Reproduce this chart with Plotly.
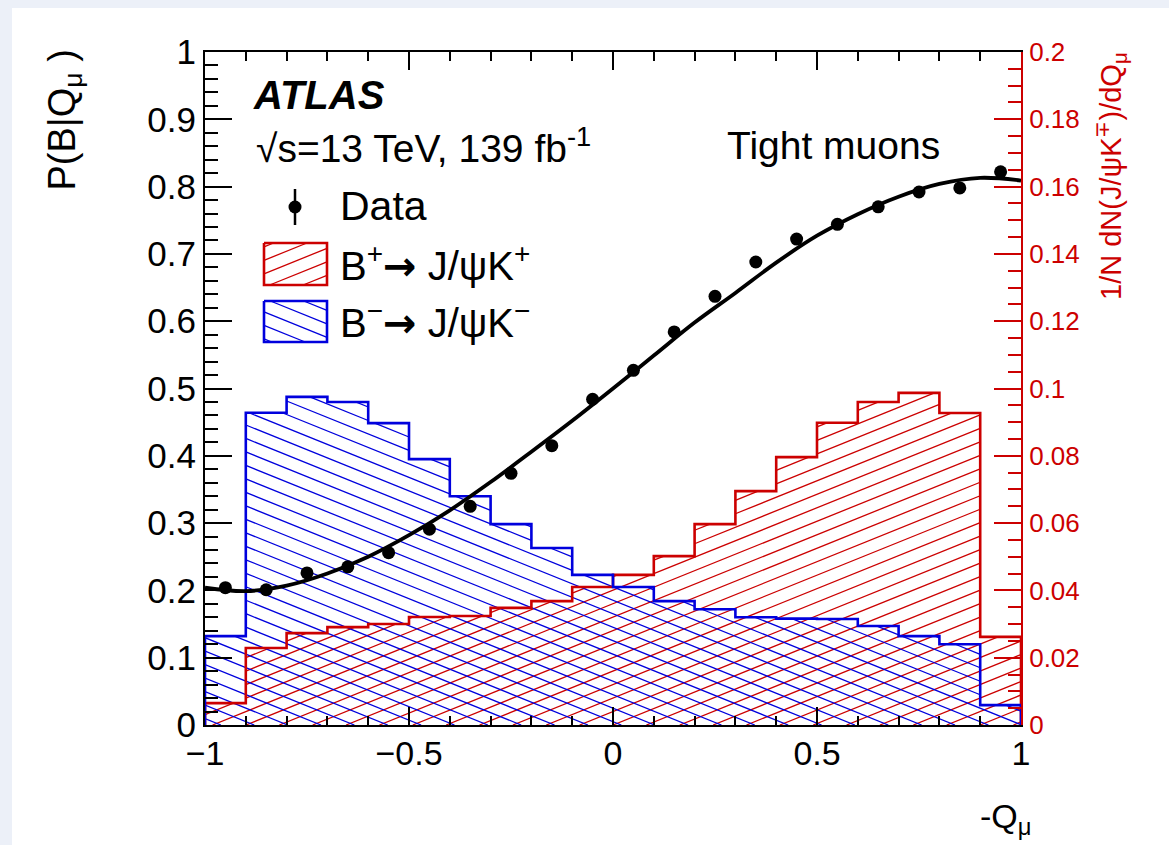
import math
import plotly.graph_objects as go

# ---------------- data ----------------
bin_edges = [-1.0, -0.9, -0.8, -0.7, -0.6, -0.5, -0.4, -0.3, -0.2, -0.1, 0.0,
             0.1, 0.2, 0.3, 0.4, 0.5, 0.6, 0.7, 0.8, 0.9, 1.0]
bin_centers = [-0.95, -0.85, -0.75, -0.65, -0.55, -0.45, -0.35, -0.25, -0.15, -0.05,
               0.05, 0.15, 0.25, 0.35, 0.45, 0.55, 0.65, 0.75, 0.85, 0.95]
# P(B|Q_mu) data points
data_p = [0.204, 0.201, 0.226, 0.235, 0.256, 0.291, 0.325, 0.374, 0.415, 0.484,
          0.527, 0.584, 0.637, 0.688, 0.722, 0.744, 0.770, 0.792, 0.798, 0.822]
# fitted curve, read at the bin edges
fit_x = bin_edges
fit_p = [0.204, 0.199, 0.207, 0.225, 0.250, 0.282, 0.319, 0.361, 0.406, 0.452, 0.500,
         0.549, 0.598, 0.642, 0.687, 0.727, 0.759, 0.785, 0.804, 0.813, 0.809]
# normalised distributions (right axis)
hist_bplus = [0.0065, 0.0229, 0.0273, 0.0291, 0.0300, 0.0321, 0.0324, 0.0348, 0.0368, 0.0410,
              0.0446, 0.0502, 0.0597, 0.0695, 0.0796, 0.0898, 0.0960, 0.0987, 0.0927, 0.0262]
hist_bminus = [0.0264, 0.0928, 0.0975, 0.0960, 0.0897, 0.0790, 0.0680, 0.0597, 0.0526, 0.0446,
               0.0410, 0.0368, 0.0344, 0.0320, 0.0316, 0.0315, 0.0294, 0.0264, 0.0240, 0.0059]

left_ticks = [0, 0.1, 0.2, 0.3, 0.4, 0.5, 0.6, 0.7, 0.8, 0.9, 1.0]
left_labels = ["0", "0.1", "0.2", "0.3", "0.4", "0.5", "0.6", "0.7", "0.8", "0.9", "1"]
right_ticks = [0, 0.02, 0.04, 0.06, 0.08, 0.1, 0.12, 0.14, 0.16, 0.18, 0.2]
right_labels = ["0", "0.02", "0.04", "0.06", "0.08", "0.1", "0.12", "0.14", "0.16", "0.18", "0.2"]
x_ticks = [-1, -0.5, 0, 0.5, 1]
x_labels = ["\u22121", "\u22120.5", "0", "0.5", "1"]

# ---------------- styling ----------------
W, H = 1169, 845
ML, MR, MT, MB = 205, 148, 52, 120
PW, PH = W - ML - MR, H - MT - MB
RED = "#cc0000"
BLUE = "#0000dd"
FONT = "Liberation Sans, Arial, Helvetica, sans-serif"
HATCH_ANGLE = 22.0
HATCH_SPACING = 12.5


def hatch_region(edges, tops, base, slope, db, phase=0.0):
    """Parallel lines y = slope*x + b clipped to a step region between base and tops."""
    ys_all = list(tops) + [base]
    ylo_all, yhi_all = min(ys_all), max(ys_all)
    xl, xr = edges[0], edges[-1]
    cands = [ylo_all - slope * xl, ylo_all - slope * xr, yhi_all - slope * xl, yhi_all - slope * xr]
    k0 = math.floor((min(cands) - phase) / db) - 1
    k1 = math.ceil((max(cands) - phase) / db) + 1
    xs, ys = [], []
    for k in range(k0, k1 + 1):
        b = phase + k * db
        segs = []
        for x0, x1, t in zip(edges[:-1], edges[1:], tops):
            ylo, yhi = min(base, t), max(base, t)
            xa, xb = (ylo - b) / slope, (yhi - b) / slope
            lo, hi = max(min(xa, xb), x0), min(max(xa, xb), x1)
            if hi > lo:
                if segs and abs(segs[-1][1] - lo) < 1e-9:
                    segs[-1][1] = hi
                else:
                    segs.append([lo, hi])
        for lo, hi in segs:
            xs += [lo, hi, None]
            ys += [slope * lo + b, slope * hi + b, None]
    return xs, ys


def step_outline(edges, tops):
    xs = [edges[0]] + list(edges[:-1]) + [edges[-1], edges[-1]]
    ys = [0] + list(tops) + [tops[-1], 0]
    return xs, ys


fig = go.Figure()

# data-space hatch parameters (right axis: 0..0.2 over PH px; x: -1..1 over PW px)
sx = PW / 2.0
sy = PH / 0.2
t = math.tan(math.radians(HATCH_ANGLE))
slope_d = t * sx / sy
db_d = HATCH_SPACING / math.cos(math.radians(HATCH_ANGLE)) / sy

for tops, col, sgn, ph in [(hist_bplus, RED, 1, 0.0), (hist_bminus, BLUE, -1, 0.001)]:
    hx, hy = hatch_region(bin_edges, tops, 0.0, sgn * slope_d, db_d, ph)
    fig.add_trace(go.Scatter(x=hx, y=hy, mode="lines", line=dict(color=col, width=1.3),
                             hoverinfo="skip", showlegend=False, xaxis="x", yaxis="y"))
for tops, col in [(hist_bplus, RED), (hist_bminus, BLUE)]:
    ox, oy = step_outline(bin_edges, tops)
    fig.add_trace(go.Scatter(x=ox, y=oy, mode="lines", line=dict(color=col, width=2.6, shape="hv"),
                             hoverinfo="skip", showlegend=False, xaxis="x", yaxis="y"))

# curve and data on the left axis (overlay subplot, drawn on top)
fig.add_trace(go.Scatter(x=fit_x, y=fit_p, mode="lines",
                         line=dict(color="black", width=3.8, shape="spline", smoothing=1.0),
                         showlegend=False, xaxis="x", yaxis="y2"))
fig.add_trace(go.Scatter(x=bin_centers, y=data_p, mode="markers",
                         marker=dict(color="black", size=13),
                         showlegend=False, xaxis="x", yaxis="y2"))

# ---------------- legend glyphs (pixel-space overlay) ----------------
pslope = t  # in pixel space with y downward, up-right lines have slope -t
for (y0, y1), col, sgn in [((243, 285), RED, -1), ((301, 342), BLUE, 1)]:
    x0, x1 = 264, 327
    hx, hy = hatch_region([x0, x1], [y0], y1, sgn * pslope,
                          HATCH_SPACING / math.cos(math.radians(HATCH_ANGLE)), 3.0)
    fig.add_trace(go.Scatter(x=hx, y=hy, mode="lines", line=dict(color=col, width=1.3),
                             hoverinfo="skip", showlegend=False, xaxis="x3", yaxis="y3"))
    fig.add_trace(go.Scatter(x=[x0, x1, x1, x0, x0], y=[y0, y0, y1, y1, y0], mode="lines",
                             line=dict(color=col, width=2.6), hoverinfo="skip",
                             showlegend=False, xaxis="x3", yaxis="y3"))
fig.add_trace(go.Scatter(x=[295, 295], y=[189, 225], mode="lines", line=dict(color="black", width=2.5),
                         hoverinfo="skip", showlegend=False, xaxis="x3", yaxis="y3"))
fig.add_trace(go.Scatter(x=[295], y=[207], mode="markers", marker=dict(color="black", size=13),
                         hoverinfo="skip", showlegend=False, xaxis="x3", yaxis="y3"))


def px(xp):
    return (xp - ML) / PW


def py(yp):
    return (H - MB - yp) / PH


ann = []


def text(s, x, y, size, xanchor="left", yanchor="middle", color="black", angle=0):
    ann.append(dict(text=s, x=px(x), y=py(y), xref="paper", yref="paper", showarrow=False,
                    xanchor=xanchor, yanchor=yanchor, textangle=angle,
                    font=dict(family=FONT, size=size, color=color)))


ARROW = "<span style=\"font-family:'DejaVu Sans'\"><b>\u2192</b></span>"
text("<b><i>ATLAS</i></b>", 251, 95, 40)
text("\u221As=13 TeV, 139 fb<sup>-1</sup>", 254, 146, 39)
text("Tight muons", 725, 146, 39)
text("Data", 338, 206, 41)
text("B<sup>+</sup>" + ARROW + " J/\u03C8K<sup>+</sup>", 338, 263, 40)
text("B<sup>\u2212</sup>" + ARROW + " J/\u03C8K<sup>\u2212</sup>", 338, 320, 40)
text("P(B|Q<sub>\u03BC</sub> )", 64, 48, 38, xanchor="center", yanchor="top", angle=-90)
text("1/N dN(J/\u03C8K<sup>\u2213</sup>)/dQ<sub>\u03BC</sub>", 1111, 50, 29,
     xanchor="center", yanchor="top", color=RED, angle=-90)
text("-Q<sub>\u03BC</sub>", 1034, 818, 34, xanchor="right")

axis_font = dict(family=FONT, size=35, color="black")

fig.update_layout(
    width=W, height=H,
    margin=dict(l=ML, r=MR, t=MT, b=MB, pad=0),
    paper_bgcolor="#ecf0f8",
    plot_bgcolor="white",
    showlegend=False,
    annotations=ann,
    shapes=[dict(type="rect", xref="paper", yref="paper", layer="below",
                 x0=px(12), x1=px(1175), y0=py(850), y1=py(8),
                 fillcolor="white", line=dict(width=0))],
    xaxis=dict(range=[-1, 1], tickvals=x_ticks, ticktext=x_labels, ticks="inside",
               ticklen=18, tickwidth=1.5, tickcolor="black",
               minor=dict(dtick=0.1, ticks="inside", ticklen=9, tickwidth=1.5, tickcolor="black"),
               showline=True, linecolor="black", linewidth=2, mirror="ticks",
               showgrid=False, zeroline=False, tickfont=dict(family=FONT, size=34, color="black"),
               ticklabelstandoff=-3, anchor="y"),
    yaxis=dict(range=[0, 0.2], side="right", tickvals=right_ticks, ticktext=right_labels,
               ticks="inside", ticklen=27, tickwidth=1.5, tickcolor=RED,
               minor=dict(dtick=0.005, ticks="inside", ticklen=13, tickwidth=1.5, tickcolor=RED),
               showline=True, linecolor=RED, linewidth=2, showgrid=False, zeroline=False,
               tickfont=dict(family=FONT, size=26, color=RED), ticklabelstandoff=1, anchor="x"),
    yaxis2=dict(range=[0, 1], side="left", overlaying="y", anchor="x",
                tickvals=left_ticks, ticktext=left_labels,
                ticks="inside", ticklen=27, tickwidth=1.5, tickcolor="black",
                minor=dict(dtick=0.02, ticks="inside", ticklen=13, tickwidth=1.5, tickcolor="black"),
                showline=True, linecolor="black", linewidth=2, showgrid=False, zeroline=False,
                tickfont=axis_font, ticklabelstandoff=0),
    xaxis3=dict(range=[ML, W - MR], overlaying="x", anchor="y3", visible=False, fixedrange=True),
    yaxis3=dict(range=[H - MB, MT], overlaying="y", anchor="x3", visible=False, fixedrange=True),
)

fig.write_html("out.html")
